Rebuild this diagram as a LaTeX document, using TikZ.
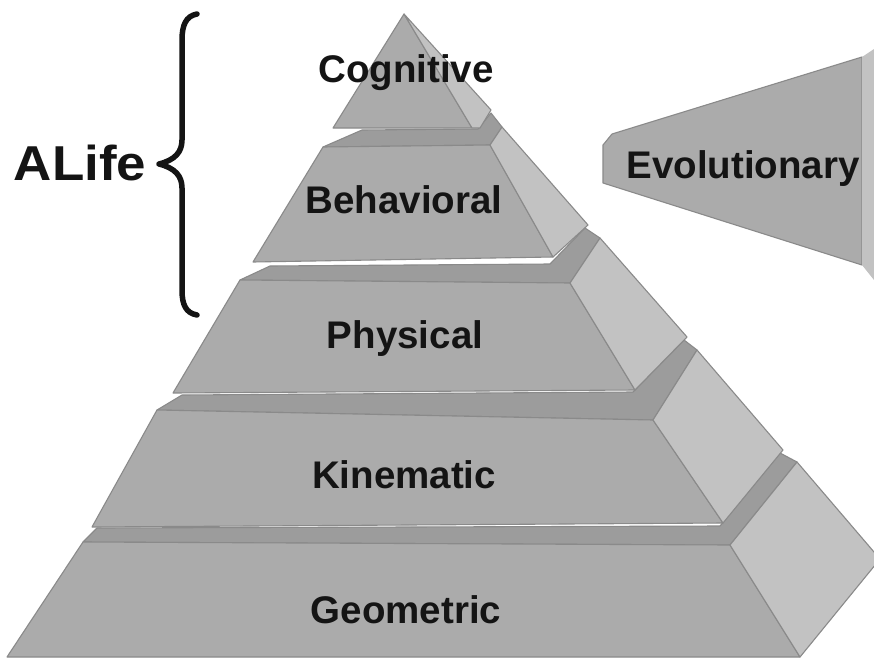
\documentclass[tikz,border=0pt]{standalone}
\usepackage{fontspec}
\setmainfont{Liberation Sans}
\newfontfamily\lblfont{Liberation Sans}[FakeBold=0]
\definecolor{frontgray}{HTML}{ABABAB}
\definecolor{sidegray}{HTML}{C2C2C2}
\definecolor{bandgray}{HTML}{9C9C9C}
\definecolor{edgegray}{HTML}{8A8A8A}
\definecolor{txtblack}{HTML}{141414}
\tikzset{
  front/.style={fill=frontgray, draw=edgegray, line width=1.1pt, line join=round},
  sideface/.style={fill=sidegray, draw=edgegray, line width=1.1pt, line join=round},
  band/.style={fill=bandgray, draw=edgegray, line width=1.1pt, line join=round},
  lbl/.style={font=\bfseries\fontsize{38.5}{40}\selectfont, anchor=base, inner sep=0pt, text=txtblack},
  bracestyle/.style={line width=5.5pt, line cap=round, line join=round, draw=txtblack}
}
\begin{document}
\begin{tikzpicture}[x=1pt,y=-1pt]
\useasboundingbox (0,0) rectangle (874,661);
\clip (0,0) rectangle (874,661);
\fill[white] (0,0) rectangle (874,661);
% Geometric layer
\draw[band] (97,528) -- (720,526) -- (780,453) -- (797,462) -- (730,545) -- (83,542) -- cycle;
\draw[front] (83,542) -- (730,545) -- (800,657) -- (7,657) -- cycle;
\draw[sideface] (730,545) -- (797,462) -- (880,559) -- (800,657) -- cycle;
% Kinematic layer
\draw[band] (182,395) -- (633,392) -- (684,340) -- (697,350) -- (653,420) -- (157,410) -- cycle;
\draw[front] (157,410) -- (653,420) -- (723,523) -- (92,527) -- cycle;
\draw[sideface] (653,420) -- (697,350) -- (783,450) -- (723,523) -- cycle;
% Physical layer
\draw[band] (270,266) -- (550,264) -- (585,228) -- (600,238) -- (570,283) -- (240,280) -- cycle;
\draw[front] (240,280) -- (570,283) -- (635,390) -- (173,393) -- cycle;
\draw[sideface] (570,283) -- (600,238) -- (687,337) -- (635,390) -- cycle;
% Behavioral layer
\draw[band] (362,130) -- (478,129) -- (491,113) -- (502,127) -- (490,145) -- (323,147) -- cycle;
\draw[front] (323,147) -- (490,145) -- (553,257) -- (253,262) -- cycle;
\draw[sideface] (490,145) -- (502,127) -- (588,225) -- (553,257) -- cycle;
% Cognitive layer
\draw[front] (404,14) -- (472,128) -- (333,128) -- cycle;
\draw[sideface] (404,14) -- (491,110) -- (480,128) -- (472,128) -- cycle;
% Evolutionary wedge
\draw[front] (603,145) -- (612,134) -- (862,57) -- (862,265) -- (603,183) -- cycle;
\fill[sidegray] (862,57) -- (874,49) -- (874,280) -- (862,265) -- cycle;
% Labels
\node[lbl] (cog) at (406,82) {Cognitive};
\node[lbl] (beh) at (404,213) {Behavioral};
\node[lbl] (phy) at (405,348) {Physical};
\node[lbl] (kin) at (404,488) {Kinematic};
\node[lbl] (geo) at (406,623) {Geometric};
\node[lbl] (evo) at (743,178) {Evolutionary};
\node[lbl, font=\bfseries\fontsize{49}{50}\selectfont] (alife) at (80,180) {\scalebox{1.08}[1]{ALife}};
% Brace
\coordinate (btop) at (197,14);
\coordinate (bcusp) at (159,164);
\coordinate (bbot) at (197,315);
\draw[bracestyle] (btop) .. controls (186,16) and (182,25) .. (182,40) -- (182,140)
  .. controls (182,152) and (175,160) .. (bcusp)
  .. controls (175,168) and (182,176) .. (182,188) -- (182,290)
  .. controls (182,305) and (186,313) .. (bbot);
\end{tikzpicture}
\end{document}
